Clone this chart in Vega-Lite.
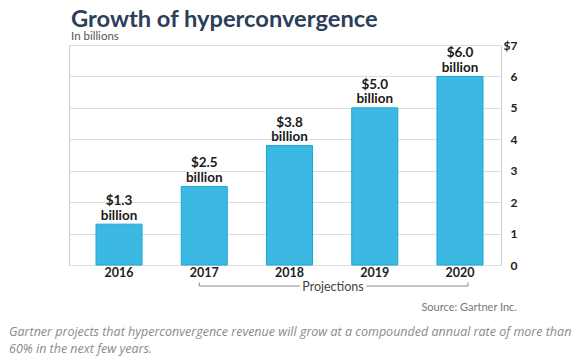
{
  "$schema": "https://vega.github.io/schema/vega-lite/v6.json",
  "width": 432,
  "height": 220,
  "autosize": {"type": "none"},
  "padding": {"left": 69, "top": 45, "right": 77, "bottom": 96},
  "background": "white",
  "title": {
    "text": "Growth of hyperconvergence",
    "subtitle": "In billions",
    "anchor": "start",
    "frame": "group",
    "offset": -3,
    "dx": 2,
    "font": "Lato",
    "fontSize": 23.7,
    "fontWeight": "bold",
    "color": "#2d3e5a",
    "subtitleFont": "Lato",
    "subtitleFontSize": 11.5,
    "subtitleColor": "#555555",
    "subtitlePadding": -1
  },
  "config": {
    "view": {"stroke": "#cccccc", "strokeWidth": 1},
    "font": "Lato",
    "axisX": {
      "title": null,
      "labelAngle": 0,
      "ticks": false,
      "domain": false,
      "grid": false,
      "labelPadding": 1,
      "labelFont": "Lato",
      "labelFontSize": 12.5,
      "labelFontWeight": "bold",
      "labelColor": "#222222"
    },
    "axisY": {
      "title": null,
      "ticks": false,
      "domain": false,
      "grid": true,
      "gridColor": "#dddddd",
      "labelAlign": "right",
      "labelPadding": 16,
      "labelFont": "Lato",
      "labelFontSize": 12,
      "labelFontWeight": "bold",
      "labelColor": "#222222"
    }
  },
  "datasets": {
    "revenue": [
      {"year": "2016", "value": 1.3, "label": ["$1.3", "billion"]},
      {"year": "2017", "value": 2.5, "label": ["$2.5", "billion"]},
      {"year": "2018", "value": 3.8, "label": ["$3.8", "billion"]},
      {"year": "2019", "value": 5.0, "label": ["$5.0", "billion"]},
      {"year": "2020", "value": 6.0, "label": ["$6.0", "billion"]}
    ]
  },
  "layer": [
    {
      "data": {"name": "revenue"},
      "mark": {"type": "bar", "color": "#3bb9e3", "stroke": "#1ea5d5", "strokeWidth": 1},
      "encoding": {
        "x": {
          "field": "year",
          "type": "nominal",
          "title": null,
          "scale": {"paddingInner": 0.46, "paddingOuter": 0.264, "align": 0.6},
          "axis": {"title": null}
        },
        "y": {
          "field": "value",
          "type": "quantitative",
          "title": null,
          "scale": {"domain": [0, 7], "nice": false},
          "axis": {"orient": "right", "title": null, "values": [0, 1, 2, 3, 4, 5, 6, 7], "labelExpr": "datum.value == 7 ? '$7' : datum.label"}
        }
      }
    },
    {
      "data": {"name": "revenue"},
      "mark": {
        "type": "text",
        "baseline": "bottom",
        "dy": -16,
        "font": "Lato",
        "fontSize": 13.5,
        "fontWeight": "bold",
        "color": "#1a1a1a",
        "lineHeight": 14.5
      },
      "encoding": {
        "x": {"field": "year", "type": "nominal", "title": null, "axis": {"title": null}},
        "y": {"field": "value", "type": "quantitative", "title": null, "axis": {"orient": "right", "title": null, "values": [0, 1, 2, 3, 4, 5, 6, 7], "labelExpr": "datum.value == 7 ? '$7' : datum.label"}},
        "text": {"field": "label"}
      }
    },
    {
      "data": {"values": [{"from": "2017", "to": "2020"}]},
      "mark": {"type": "rule", "color": "#888888", "strokeWidth": 1, "xOffset": -5, "x2Offset": 8},
      "encoding": {
        "x": {"field": "from", "type": "nominal", "title": null, "axis": {"title": null}},
        "x2": {"field": "to"},
        "y": {"datum": -0.67, "title": null, "axis": {"orient": "right", "title": null, "values": [0, 1, 2, 3, 4, 5, 6, 7], "labelExpr": "datum.value == 7 ? '$7' : datum.label"}}
      }
    },
    {
      "data": {"values": [{"end": "2017"}]},
      "mark": {"type": "rule", "color": "#888888", "strokeWidth": 1, "xOffset": -5},
      "encoding": {
        "x": {"field": "end", "type": "nominal", "title": null, "axis": {"title": null}},
        "y": {"datum": -0.67, "title": null, "axis": {"orient": "right", "title": null, "values": [0, 1, 2, 3, 4, 5, 6, 7], "labelExpr": "datum.value == 7 ? '$7' : datum.label"}},
        "y2": {"datum": -0.56}
      }
    },
    {
      "data": {"values": [{"end": "2020"}]},
      "mark": {"type": "rule", "color": "#888888", "strokeWidth": 1, "xOffset": 8},
      "encoding": {
        "x": {"field": "end", "type": "nominal", "title": null, "axis": {"title": null}},
        "y": {"datum": -0.67, "title": null, "axis": {"orient": "right", "title": null, "values": [0, 1, 2, 3, 4, 5, 6, 7], "labelExpr": "datum.value == 7 ? '$7' : datum.label"}},
        "y2": {"datum": -0.56}
      }
    },
    {
      "data": {"values": [{"at": "2018", "text": "Projections"}]},
      "mark": {"type": "text", "dx": 43.5, "baseline": "middle", "font": "Lato", "fontSize": 12.5, "stroke": "white", "strokeWidth": 7, "color": "white"},
      "encoding": {
        "x": {"field": "at", "type": "nominal", "title": null, "axis": {"title": null}},
        "y": {"datum": -0.7, "title": null, "axis": {"orient": "right", "title": null, "values": [0, 1, 2, 3, 4, 5, 6, 7], "labelExpr": "datum.value == 7 ? '$7' : datum.label"}},
        "text": {"field": "text"}
      }
    },
    {
      "data": {"values": [{"at": "2018", "text": "Projections"}]},
      "mark": {"type": "text", "dx": 43.5, "baseline": "middle", "font": "Lato", "fontSize": 12.5, "color": "#444444"},
      "encoding": {
        "x": {"field": "at", "type": "nominal", "title": null, "axis": {"title": null}},
        "y": {"datum": -0.7, "title": null, "axis": {"orient": "right", "title": null, "values": [0, 1, 2, 3, 4, 5, 6, 7], "labelExpr": "datum.value == 7 ? '$7' : datum.label"}},
        "text": {"field": "text"}
      }
    },
    {
      "data": {"values": [{"at": "2020", "text": "Source: Gartner Inc."}]},
      "mark": {"type": "text", "dx": 57, "align": "right", "baseline": "alphabetic", "font": "Lato", "fontSize": 11, "color": "#777777"},
      "encoding": {
        "x": {"field": "at", "type": "nominal", "title": null, "axis": {"title": null}},
        "y": {"datum": -1.46, "title": null, "axis": {"orient": "right", "title": null, "values": [0, 1, 2, 3, 4, 5, 6, 7], "labelExpr": "datum.value == 7 ? '$7' : datum.label"}},
        "text": {"field": "text"}
      }
    },
    {
      "data": {"values": [{"at": "2016", "text": ["Gartner projects that hyperconvergence revenue will grow at a compounded annual rate of more than", "60% in the next few years."]}]},
      "mark": {"type": "text", "dx": -110, "align": "left", "baseline": "alphabetic", "font": "Open Sans", "fontSize": 12.5, "fontStyle": "italic", "color": "#8a8a8a", "lineHeight": 17},
      "encoding": {
        "x": {"field": "at", "type": "nominal", "title": null, "axis": {"title": null}},
        "y": {"datum": -2.25, "title": null, "axis": {"orient": "right", "title": null, "values": [0, 1, 2, 3, 4, 5, 6, 7], "labelExpr": "datum.value == 7 ? '$7' : datum.label"}},
        "text": {"field": "text"}
      }
    }
  ]
}
